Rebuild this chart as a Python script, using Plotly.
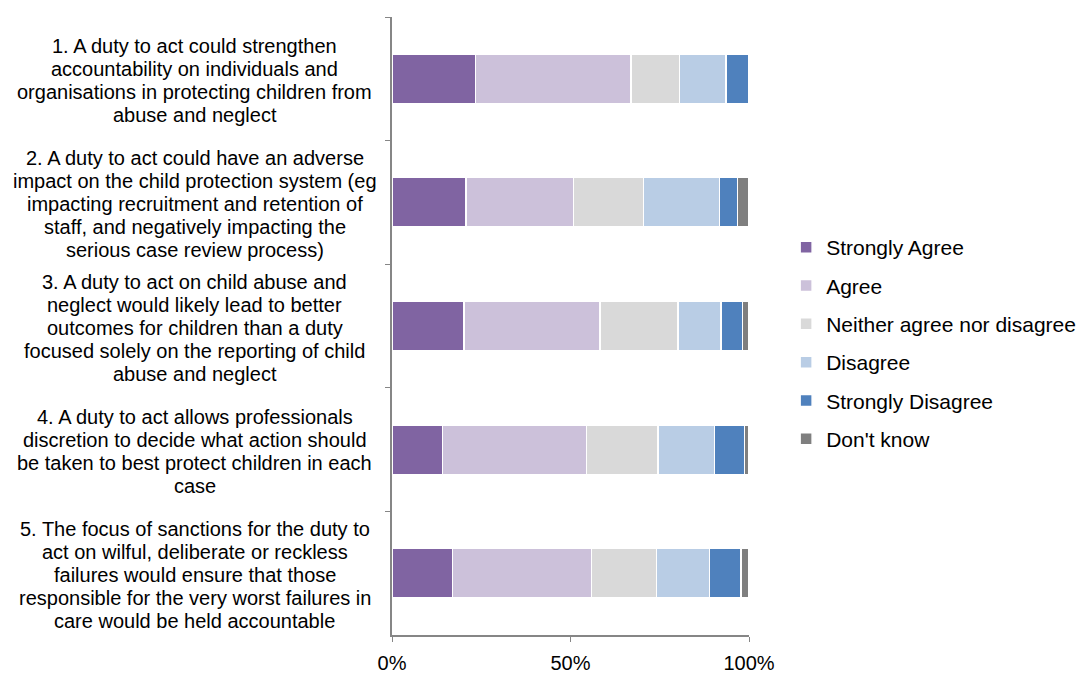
import plotly.graph_objects as go

categories = ["Q1", "Q2", "Q3", "Q4", "Q5"]
label_lines = [
    ["1. A duty to act could strengthen", "accountability on individuals and",
     "organisations in protecting children from", "abuse and neglect"],
    ["2. A duty to act could have an adverse", "impact on the child protection system (eg",
     "impacting recruitment and retention of", "staff, and negatively impacting the",
     "serious case review process)"],
    ["3. A duty to act on child abuse and", "neglect would likely lead to better",
     "outcomes for children than a duty", "focused solely on the reporting of child",
     "abuse and neglect"],
    ["4. A duty to act allows professionals", "discretion to decide what action should",
     "be taken to best protect children in each", "case"],
    ["5. The focus of sanctions for the duty to", "act on wilful, deliberate or reckless",
     "failures would ensure that those", "responsible for the very worst failures in",
     "care would be held accountable"],
]
series_names = ["Strongly Agree", "Agree", "Neither agree nor disagree",
                "Disagree", "Strongly Disagree", "Don't know"]
strongly_agree = [23.4, 20.7, 20.1, 14.2, 17.0]
agree = [43.6, 30.2, 38.1, 40.3, 38.9]
neither = [13.6, 19.5, 21.9, 20.0, 18.2]
disagree = [12.9, 21.3, 12.0, 15.8, 14.9]
strongly_disagree = [6.5, 5.1, 6.1, 8.4, 8.7]
dont_know = [0.0, 3.2, 1.8, 1.3, 2.3]
series_values = [strongly_agree, agree, neither, disagree, strongly_disagree, dont_know]
colors = ["#8064A2", "#CCC1DA", "#D9D9D9", "#B9CDE5", "#4F81BD", "#7F7F7F"]
x_ticks = [0, 50, 100]
x_ticktext = ["0%", "50%", "100%"]

FONT = "Liberation Sans, Arial, sans-serif"
LINE_H = 23

fig = go.Figure()
for name, vals, col in zip(series_names, series_values, colors):
    fig.add_trace(go.Bar(
        y=categories, x=vals, name=name, orientation="h",
        marker=dict(color=col, line=dict(color="white", width=1.5)),
        legendgroup=name,
    ))

for cat, lines in zip(categories, label_lines):
    n = len(lines)
    for i, line in enumerate(lines):
        fig.add_annotation(
            x=-0.552, xref="paper", y=cat, yref="y", text=line,
            showarrow=False, xanchor="center", yanchor="middle", align="center",
            yshift=((n - 1) / 2 - i) * LINE_H - 1.5,
            font=dict(family=FONT, size=20, color="#000000"),
        )

fig.update_layout(
    width=1087, height=675,
    barmode="stack", bargap=0.6,
    margin=dict(l=384, r=346, t=9, b=43),
    plot_bgcolor="white", paper_bgcolor="white",
    font=dict(family=FONT, size=19, color="#000000"),
    showlegend=True,
    legend=dict(x=1.104, y=0.66, xanchor="left", yanchor="top",
                font=dict(family=FONT, size=21, color="#000000"),
                tracegroupgap=8, traceorder="grouped",
                itemwidth=30, bgcolor="rgba(0,0,0,0)"),
    xaxis=dict(range=[0, 100], tickvals=x_ticks, ticktext=x_ticktext,
               showgrid=False, zeroline=False, showline=True,
               linecolor="#868686", linewidth=1.5, ticks="outside",
               ticklen=5, tickcolor="#868686", ticklabelstandoff=4,
               tickfont=dict(family=FONT, size=20, color="#000000")),
    yaxis=dict(autorange="reversed", showticklabels=False, showgrid=False,
               zeroline=False, showline=True, linecolor="#868686",
               linewidth=1.5, ticks="outside", tickson="boundaries",
               ticklen=5, tickcolor="#868686"),
)

fig.write_html("out.html")
